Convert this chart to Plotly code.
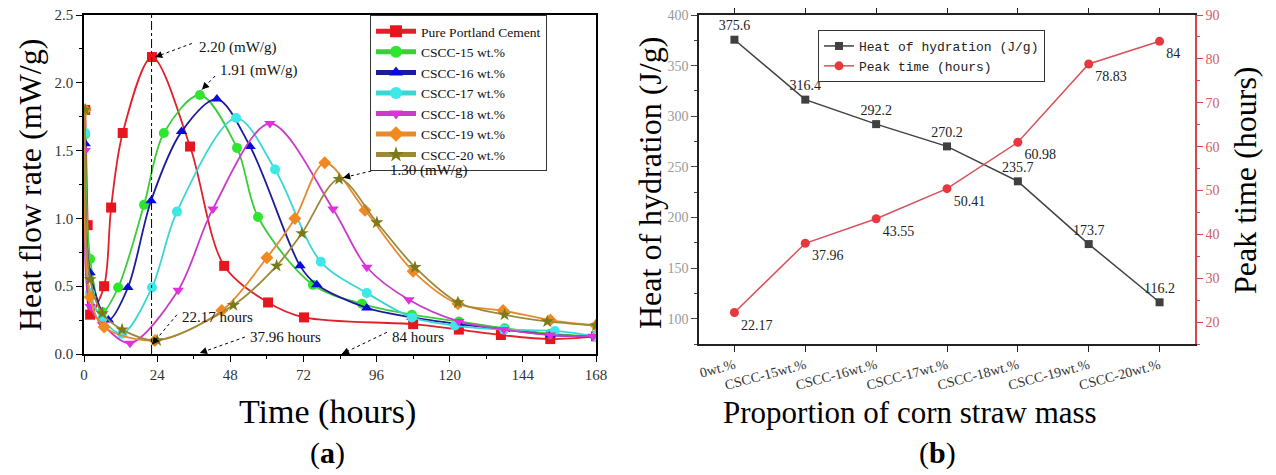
import math
import plotly.graph_objects as go

# ---------------- data: panel (a) ----------------
series_names = ["Pure Portland Cement", "CSCC-15 wt.%", "CSCC-16 wt.%", "CSCC-17 wt.%",
                "CSCC-18 wt.%", "CSCC-19 wt.%", "CSCC-20 wt.%"]

pure_t = [0.4, 1.2, 2.0, 6.6, 8.9, 12.7, 22.3, 34.8, 46.0, 60.4, 72.2, 108.0, 123.0, 136.8, 153.0, 168.0]
pure_y = [1.80, 0.95, 0.29, 0.50, 1.08, 1.63, 2.19, 1.53, 0.65, 0.38, 0.27, 0.22, 0.18, 0.14, 0.11, 0.13]

c15_t = [0.4, 2.0, 6.0, 11.2, 19.7, 26.2, 38.0, 50.2, 57.1, 75.1, 91.2, 107.6, 123.0, 138.0, 153.0, 168.0]
c15_y = [1.62, 0.70, 0.31, 0.49, 1.10, 1.63, 1.91, 1.52, 1.01, 0.51, 0.37, 0.29, 0.24, 0.19, 0.15, 0.13]

c16_t = [0.4, 2.0, 8.0, 14.4, 22.0, 32.0, 43.6, 54.5, 70.9, 76.4, 92.8, 107.6, 123.0, 138.0, 153.0, 168.0]
c16_y = [1.55, 0.60, 0.25, 0.49, 1.13, 1.64, 1.88, 1.53, 0.65, 0.51, 0.34, 0.27, 0.22, 0.18, 0.14, 0.13]

c17_t = [0.4, 2.0, 6.0, 12.5, 22.3, 30.5, 49.9, 62.7, 77.7, 92.8, 107.6, 121.7, 137.8, 154.5, 168.0]
c17_y = [1.63, 0.45, 0.26, 0.15, 0.49, 1.05, 1.74, 1.36, 0.68, 0.45, 0.27, 0.21, 0.18, 0.17, 0.13]

c18_t = [0.4, 2.0, 6.0, 15.1, 30.9, 42.3, 61.0, 81.7, 92.8, 106.6, 123.0, 137.8, 153.0, 167.0]
c18_y = [1.50, 0.35, 0.22, 0.08, 0.47, 1.07, 1.70, 1.07, 0.64, 0.40, 0.24, 0.18, 0.14, 0.13]

c19_t = [0.4, 2.0, 6.6, 23.3, 45.2, 60.0, 69.2, 79.0, 92.2, 108.0, 122.7, 137.5, 153.0, 168.0]
c19_y = [1.80, 0.42, 0.20, 0.10, 0.32, 0.71, 1.00, 1.41, 1.06, 0.61, 0.37, 0.32, 0.25, 0.21]

c20_t = [0.4, 2.0, 6.0, 12.5, 24.0, 49.0, 63.2, 71.5, 83.7, 96.1, 108.6, 122.7, 138.0, 152.0, 168.0]
c20_y = [1.80, 0.55, 0.30, 0.18, 0.10, 0.36, 0.65, 0.89, 1.29, 0.97, 0.64, 0.38, 0.29, 0.24, 0.21]

time_ticks = [0, 24, 48, 72, 96, 120, 144, 168]
flow_ticks = [0.0, 0.5, 1.0, 1.5, 2.0, 2.5]

# ---------------- data: panel (b) ----------------
proportions = ["0wt.%", "CSCC-15wt.%", "CSCC-16wt.%", "CSCC-17wt.%",
               "CSCC-18wt.%", "CSCC-19wt.%", "CSCC-20wt.%"]
heat_of_hydration = [375.6, 316.4, 292.2, 270.2, 235.7, 173.7, 116.2]
peak_time = [22.17, 37.96, 43.55, 50.41, 60.98, 78.83, 84]
heat_ticks = [100, 150, 200, 250, 300, 350, 400]
peak_ticks = [20, 30, 40, 50, 60, 70, 80, 90]

# ---------------- styles ----------------
SERIF = "Liberation Serif"
styles = [
    dict(line="#e0202a", marker="#e8141e", symbol="square"),
    dict(line="#3ccc3c", marker="#2ee62e", symbol="circle"),
    dict(line="#1c1c9a", marker="#0a0ae0", symbol="triangle-up"),
    dict(line="#3ad6d6", marker="#3ee8e8", symbol="circle"),
    dict(line="#c83cc8", marker="#e030e0", symbol="triangle-down"),
    dict(line="#e88a2c", marker="#f08a20", symbol="diamond"),
    dict(line="#9a8a3a", marker="#7a7a1a", symbol="star"),
]
all_t = [pure_t, c15_t, c16_t, c17_t, c18_t, c19_t, c20_t]
all_y = [pure_y, c15_y, c16_y, c17_y, c18_y, c19_y, c20_y]

fig = go.Figure()
for name, st, tt, yy in zip(series_names, styles, all_t, all_y):
    fig.add_trace(go.Scatter(
        x=tt, y=yy, name=name, mode="lines+markers",
        line=dict(color=st["line"], width=1.8, shape="spline", smoothing=0.9),
        marker=dict(color=st["marker"], symbol=st["symbol"], size=10,
                    line=dict(width=0)),
        xaxis="x", yaxis="y", legend="legend",
    ))

fig.add_trace(go.Scatter(
    x=proportions, y=heat_of_hydration, name="Heat of hydration (J/g)",
    mode="lines+markers+text", text=[f"{v:g}" for v in heat_of_hydration],
    textposition="top center", textfont=dict(family=SERIF, size=14, color="#222"),
    line=dict(color="#404040", width=1.5),
    marker=dict(color="#404040", symbol="square", size=8),
    xaxis="x2", yaxis="y2", legend="legend2",
))
fig.add_trace(go.Scatter(
    x=proportions, y=peak_time, name="Peak time (hours)",
    mode="lines+markers+text", text=[f"{v:g}" for v in peak_time],
    textposition="bottom right", textfont=dict(family=SERIF, size=14, color="#222"),
    line=dict(color="#d8505a", width=1.5),
    marker=dict(color="#e8383f", symbol="circle", size=9),
    xaxis="x2", yaxis="y3", legend="legend2",
))

W, H = 1276, 475
OFF = 8  # page body margin offset
def px_x(p):
    return (p - OFF) / W
def px_y(p):
    return 1 - (p - OFF) / H

tickfont_a = dict(family=SERIF, size=15, color="#333")
fig.update_layout(
    width=W, height=H, margin=dict(l=0, r=0, t=0, b=0, autoexpand=False),
    paper_bgcolor="white", plot_bgcolor="white",
    xaxis=dict(domain=[px_x(84), px_x(596)], range=[0, 168], tickvals=time_ticks,
               automargin=False, ticklabeloverflow="allow",
               showgrid=False, zeroline=False, showline=True, linecolor="black",
               linewidth=1.5, mirror=True, ticks="outside", ticklen=6, tickcolor="black",
               minor=dict(ticks="outside", ticklen=3, dtick=12, tickcolor="black"),
               tickfont=tickfont_a, anchor="y"),
    yaxis=dict(domain=[px_y(354), px_y(15)], range=[0, 2.5], tickvals=flow_ticks,
               tickformat=".1f", automargin=False, ticklabeloverflow="allow",
               showgrid=False, zeroline=False, showline=True, linecolor="black",
               linewidth=1.5, mirror=True, ticks="outside", ticklen=6, tickcolor="black",
               minor=dict(ticks="outside", ticklen=3, dtick=0.25, tickcolor="black"),
               tickfont=tickfont_a, anchor="x"),
    xaxis2=dict(domain=[px_x(699), px_x(1195)], range=[-0.5, 6.5], automargin=False,
                ticklabeloverflow="allow",
                showgrid=False, zeroline=False, showline=True, linecolor="#222",
                linewidth=1.5, mirror="ticks", ticks="outside", ticklen=6, tickcolor="#222",
                tickangle=-15, tickfont=dict(family=SERIF, size=14, color="#333"),
                anchor="y2"),
    yaxis2=dict(domain=[px_y(344), px_y(15)], range=[75, 400], tickvals=heat_ticks,
                automargin=False, ticklabeloverflow="allow",
                showgrid=False, zeroline=False, showline=True, linecolor="#222",
                linewidth=1.5, ticks="outside", ticklen=6, tickcolor="#444",
                minor=dict(ticks="outside", ticklen=3, dtick=25, tickcolor="#444"),
                tickfont=dict(family=SERIF, size=14, color="#999"), anchor="x2"),
    yaxis3=dict(overlaying="y2", side="right", range=[15, 90], tickvals=peak_ticks,
                automargin=False, ticklabeloverflow="allow",
                showgrid=False, zeroline=False, showline=True, linecolor="#e04048",
                linewidth=1.5, ticks="outside", ticklen=6, tickcolor="#e04048",
                minor=dict(ticks="outside", ticklen=3, dtick=5, tickcolor="#e04048"),
                tickfont=dict(family=SERIF, size=14, color="#d06060"), anchor="x2"),
    legend=dict(x=px_x(370), y=px_y(15), xanchor="left", yanchor="top",
                bgcolor="white", bordercolor="#333", borderwidth=1,
                font=dict(family=SERIF, size=13.5, color="#111"),
                tracegroupgap=0, itemwidth=40, itemsizing="constant"),
    legend2=dict(x=px_x(818), y=px_y(30), xanchor="left", yanchor="top",
                 bgcolor="white", bordercolor="#333", borderwidth=1,
                 font=dict(family="Liberation Mono", size=13, color="#222"),
                 tracegroupgap=0, itemwidth=30),
    showlegend=True,
)

# vertical dash-dot line at the pure cement peak time
fig.add_shape(type="line", xref="x", yref="y", x0=peak_time[0], x1=peak_time[0],
              y0=0, y1=2.5, line=dict(color="black", width=1, dash="dashdot"))

# peak callouts: (text, text_x, text_y, arrow_start_x, arrow_start_y, arrow_end_x, arrow_end_y)
callouts = [
    ("2.20 (mW/g)", 37.1, 2.26, 35.4, 2.29, 23.3, 2.19),
    ("1.91 (mW/g)", 44.0, 2.09, 43.0, 2.05, 38.7, 1.95),
    ("1.30 (mW/g)", 99.7, 1.35, 98.1, 1.37, 85.0, 1.30),
    ("22.17 hours", 31.5, 0.27, 30.5, 0.29, 22.3, 0.07),
    ("37.96 hours", 53.8, 0.125, 52.8, 0.125, 38.0, 0.007),
    ("84 hours", 100.5, 0.125, 99.4, 0.16, 84.6, 0.0),
]
XS = 512 / 168.0
YS = 339 / 2.5
for txt, tx, ty, sx, sy, ex, ey in callouts:
    fig.add_annotation(xref="x", yref="y", x=tx, y=ty, text=txt, showarrow=False,
                       xanchor="left", yanchor="middle",
                       font=dict(family=SERIF, size=15, color="#111"))
    fig.add_shape(type="line", xref="x", yref="y", x0=sx, y0=sy, x1=ex, y1=ey,
                  line=dict(color="black", width=1, dash="dot"))
    dx = (sx - ex) * XS
    dy = -(sy - ey) * YS
    n = math.hypot(dx, dy)
    fig.add_annotation(xref="x", yref="y", x=ex, y=ey, text="", showarrow=True,
                       ax=dx / n * 7, ay=dy / n * 7, arrowhead=2, arrowsize=1.2,
                       arrowwidth=1.2, arrowcolor="black", standoff=0)

# axis titles and panel labels
titles = [
    ("Time (hours)", 327, 412, 0, 34),
    ("(<b>a</b>)", 327, 453, 0, 30),
    ("Heat flow rate (mW/g)", 30, 185, -90, 32),
    ("Heat of hydration (J/g)", 650, 183, -90, 32),
    ("Peak time (hours)", 1245, 180, -90, 32),
    ("Proportion of corn straw mass", 910, 412, 0, 31),
    ("(<b>b</b>)", 937, 453, 0, 30),
]
for txt, x, y, ang, size in titles:
    fig.add_annotation(xref="paper", yref="paper", x=px_x(x), y=px_y(y), text=txt,
                       showarrow=False, textangle=ang, xanchor="center", yanchor="middle",
                       font=dict(family=SERIF, size=size, color="black"))

fig.write_html("out.html")
